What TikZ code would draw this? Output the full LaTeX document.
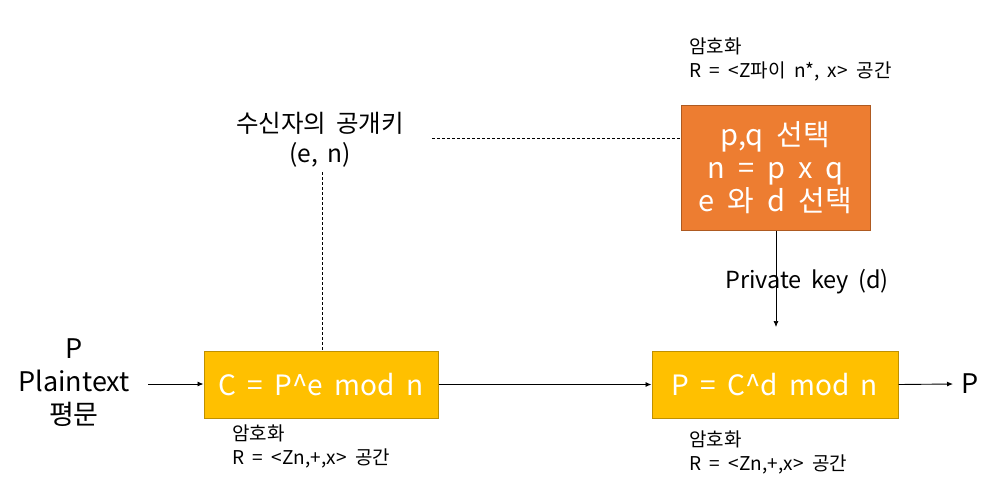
\documentclass[tikz,border=0pt]{standalone}
\usepackage{fontspec}
\setmainfont{Noto Sans CJK KR}
\usetikzlibrary{arrows.meta}
\definecolor{ybox}{HTML}{FFC000}
\definecolor{yline}{HTML}{BF9000}
\definecolor{obox}{HTML}{ED7D31}
\definecolor{oline}{HTML}{AE5A21}
\newcommand{\fsz}[3]{\fontsize{#1}{#2}\selectfont\spaceskip=#3em\relax}
\tikzset{
  ybx/.style={draw=yline, fill=ybox, line width=1pt, text=white, font=\fsz{28}{33}{0.4}, inner sep=0pt},
  obx/.style={draw=oline, fill=obox, line width=1pt, text=white, font=\fsz{29}{33}{0.45}, inner sep=0pt, align=center},
  big/.style={font=\fsz{27}{33}{0.4}, align=center, inner sep=0pt},
  mid/.style={font=\fsz{24.5}{30}{0.4}, align=center, inner sep=0pt},
  sml/.style={font=\fsz{19}{24}{0.45}, align=left, inner sep=0pt, anchor=west},
  arr/.style={-{Latex[length=6pt,width=5pt]}, line width=0.9pt},
  dsh/.style={dashed, dash pattern=on 3pt off 2pt, line width=0.7pt}
}
\begin{document}
\begin{tikzpicture}[x=1pt,y=-1pt]
\useasboundingbox (0,0) rectangle (987,498);
\node[ybx, minimum width=234pt, minimum height=67pt] (enc) at (321,384.5) {C = P\^{}e mod n};
\node[ybx, minimum width=246pt, minimum height=67pt] (dec) at (775,384.5) {P = C\^{}d mod n};
\node[obx, minimum width=189pt, minimum height=125pt] (key) at (775.5,167.5) {p,q 선택\\n = p x q\\e 와 d 선택};
\node[big] (plain) at (74,383) {P\\Plaintext\\평문};
\node[big] (out) at (970,384) {P};
\node[mid] (pub) at (320,140) {수신자의 공개키\\(e, n)};
\node[mid, font=\fsz{23.5}{30}{0.4}] (priv) at (807,282) {Private key (d)};
\node[sml] (lblt) at (689,59.5) {암호화\\R = <Z파이 n*, x> 공간};
\node[sml] (lbll) at (232,446) {암호화\\R = <Zn,+,x> 공간};
\node[sml] (lblr) at (689,452) {암호화\\R = <Zn,+,x> 공간};
\coordinate (inS) at (148,384);
\coordinate (pubB) at (322,172);
\coordinate (pubR) at (432,138);
\coordinate (privE) at (776,327);
\coordinate (outE) at (953,384);
\draw[arr] (inS) -- (inS -| enc.west);
\draw[arr] (enc.east) -- (dec.west);
\draw[arr] (dec.east) -- (outE);
\draw[dsh] (pubB) -- (pubB |- enc.north);
\draw[dsh] (pubR) -- (pubR -| key.west);
\draw[arr, line width=0.7pt] (privE |- key.south) -- (privE);
\end{tikzpicture}
\end{document}
